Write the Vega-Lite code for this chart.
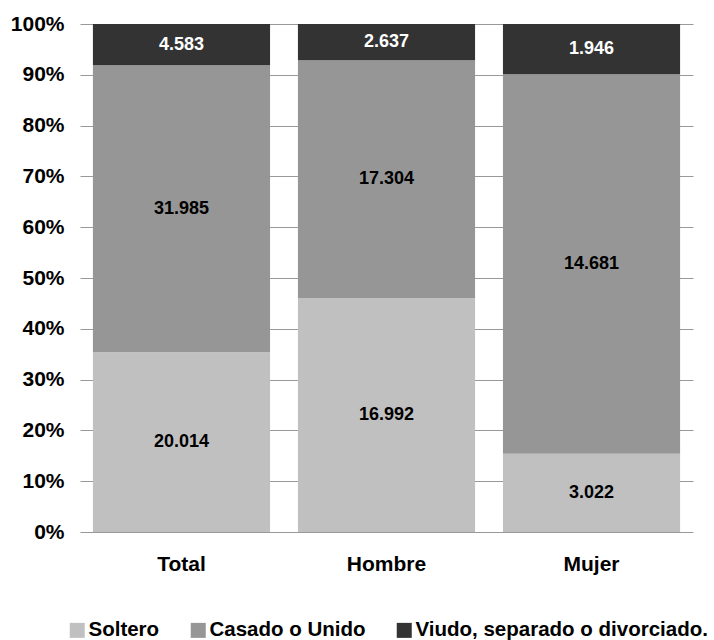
{
  "$schema": "https://vega.github.io/schema/vega-lite/v6.json",
  "width": 613,
  "height": 508,
  "autosize": {"type": "none"},
  "padding": {"left": 80, "top": 24, "right": 21, "bottom": 108},
  "background": "white",
  "config": {
    "font": "Liberation Sans",
    "view": {"stroke": null}
  },
  "data": {
    "values": [
      {"grupo": "Total", "estado": "Soltero", "ord": 1, "valor": 20014, "etiqueta": "20.014"},
      {"grupo": "Total", "estado": "Casado o Unido", "ord": 2, "valor": 31985, "etiqueta": "31.985"},
      {"grupo": "Total", "estado": "Viudo, separado o divorciado.", "ord": 3, "valor": 4583, "etiqueta": "4.583"},
      {"grupo": "Hombre", "estado": "Soltero", "ord": 1, "valor": 16992, "etiqueta": "16.992"},
      {"grupo": "Hombre", "estado": "Casado o Unido", "ord": 2, "valor": 17304, "etiqueta": "17.304"},
      {"grupo": "Hombre", "estado": "Viudo, separado o divorciado.", "ord": 3, "valor": 2637, "etiqueta": "2.637"},
      {"grupo": "Mujer", "estado": "Soltero", "ord": 1, "valor": 3022, "etiqueta": "3.022"},
      {"grupo": "Mujer", "estado": "Casado o Unido", "ord": 2, "valor": 14681, "etiqueta": "14.681"},
      {"grupo": "Mujer", "estado": "Viudo, separado o divorciado.", "ord": 3, "valor": 1946, "etiqueta": "1.946"}
    ]
  },
  "transform": [
    {"stack": "valor", "groupby": ["grupo"], "sort": [{"field": "ord", "order": "ascending"}], "offset": "normalize", "as": ["y0", "y1"]},
    {"calculate": "(datum.y0 + datum.y1) / 2", "as": "ymid"}
  ],
  "encoding": {
    "x": {
      "field": "grupo",
      "type": "nominal",
      "sort": ["Total", "Hombre", "Mujer"],
      "scale": {"paddingInner": 0.136, "paddingOuter": 0.063},
      "axis": {
        "title": null,
        "labelAngle": 0,
        "labelFontSize": 21,
        "labelFontWeight": "bold",
        "labelColor": "black",
        "labelPadding": 21,
        "domain": false,
        "ticks": false
      }
    }
  },
  "layer": [
    {
      "mark": {"type": "bar"},
      "encoding": {
        "y": {
          "field": "y0",
          "type": "quantitative",
          "scale": {"domain": [0, 1], "nice": false},
          "axis": {
            "title": null,
            "format": ".0%",
            "values": [0, 0.1, 0.2, 0.3, 0.4, 0.5, 0.6, 0.7, 0.8, 0.9, 1],
            "labelFontSize": 21,
            "labelFontWeight": "bold",
            "labelColor": "black",
            "labelPadding": 16,
            "ticks": false,
            "domain": false,
            "grid": true,
            "gridColor": "#999999",
            "gridWidth": 1.2
          }
        },
        "y2": {"field": "y1"},
        "color": {
          "field": "estado",
          "type": "nominal",
          "sort": ["Soltero", "Casado o Unido", "Viudo, separado o divorciado."],
          "scale": {
            "domain": ["Soltero", "Casado o Unido", "Viudo, separado o divorciado."],
            "range": ["#c0c0c0", "#969696", "#333333"]
          },
          "legend": {
            "title": null,
            "orient": "none",
            "direction": "horizontal",
            "legendX": -13,
            "legendY": 596,
            "symbolType": "square",
            "symbolSize": 225,
            "symbolStrokeWidth": 0,
            "labelFontSize": 20.5,
            "labelFontWeight": "bold",
            "labelColor": "black",
            "labelOffset": 1,
            "columnPadding": 28,
            "labelLimit": 400
          }
        }
      }
    },
    {
      "mark": {"type": "text", "fontSize": 18, "fontWeight": "bold", "baseline": "middle"},
      "encoding": {
        "y": {"field": "ymid", "type": "quantitative"},
        "text": {"field": "etiqueta"},
        "color": {
          "condition": {"test": "datum.ord === 3", "value": "white"},
          "value": "black"
        }
      }
    }
  ]
}
